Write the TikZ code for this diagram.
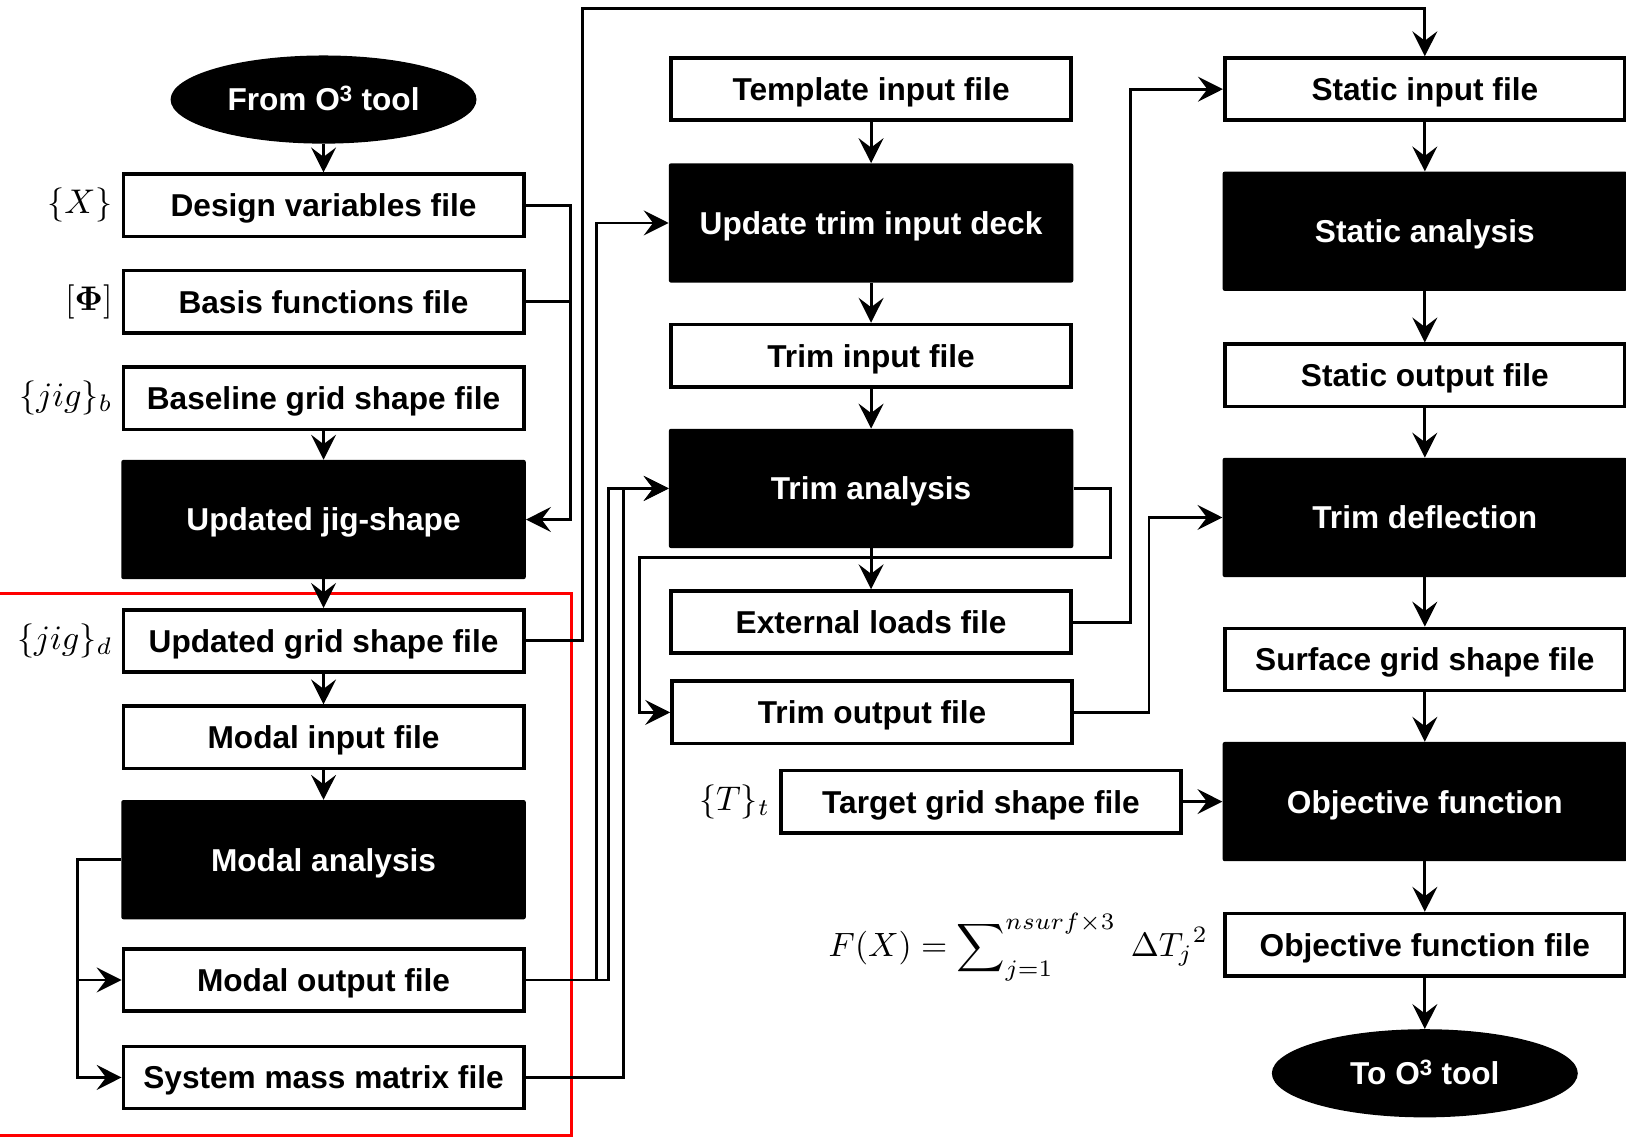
\documentclass[tikz,border=0pt]{standalone}
\usepackage{amsmath}
\usepackage[no-math]{fontspec}
\setmainfont{Liberation Sans}
\usetikzlibrary{positioning, arrows.meta, shapes.geometric}

\newcommand{\boxfont}{\bfseries\fontsize{30.5}{34}\selectfont}

\begin{document}
\begin{tikzpicture}[x=1pt, y=-1pt,
	filebox/.style={draw, line width=3.5pt, fill=white, minimum width=386pt, minimum height=60pt, inner sep=0pt, text height=22pt, text depth=0pt, font=\boxfont},
	procbox/.style={fill=black, text=white, rounded corners=2pt, minimum width=390pt, minimum height=115pt, inner sep=0pt, text height=22pt, text depth=0pt, font=\boxfont},
	termnode/.style={ellipse, fill=black, text=white, minimum width=295pt, minimum height=85pt, inner sep=0pt, text height=22pt, text depth=0pt, font=\boxfont},
	symlabel/.style={scale=3.3, inner sep=0pt},
	conn/.style={line width=2.8pt, -{Stealth[length=24pt, width=24pt, inset=9pt]}},
	wire/.style={line width=2.8pt}]
			\useasboundingbox (0,0) rectangle (1568,1097);
			% modal part
			\draw[red, line width=3pt] (-10,572) -| (551,1095) -- (-10,1095);

			% left column
			\node[termnode] (from) at (312,96) {From O\textsuperscript{3} tool};
			\node[filebox] (design) at (312,198) {Design variables file};
			\node[filebox] (basis) at (312,291) {Basis functions file};
			\node[filebox] (baseline) at (312,384) {Baseline grid shape file};
			\node[procbox] (jig) at (312,501) {Updated jig-shape};
			\node[filebox] (grid) at (312,618) {Updated grid shape file};
			\node[filebox] (modalin) at (312,711) {Modal input file};
			\node[procbox] (modal) at (312,829) {Modal analysis};
			\node[filebox] (modalout) at (312,945) {Modal output file};
			\node[filebox] (mass) at (312,1039) {System mass matrix file};

			\node[symlabel, anchor=east] (lX) at ([xshift=-8pt]design.west) {$\{X\}$};
			\node[symlabel, anchor=east] (lPhi) at ([xshift=-8pt]basis.west) {$[\mathbf{\Phi}]$};
			\node[symlabel, anchor=east] (ljigb) at ([xshift=-8pt]baseline.west) {$\{jig\}_b$};
			\node[symlabel, anchor=east] (ljigd) at ([xshift=-8pt]grid.west) {$\{jig\}_d$};

			% middle column
			\node[filebox] (template) at (840,86) {Template input file};
			\node[procbox] (updeck) at (840,215) {Update trim input deck};
			\node[filebox] (trimin) at (840,343) {Trim input file};
			\node[procbox] (trim) at (840,471) {Trim analysis};
			\node[filebox] (loads) at (840,600) {External loads file};
			\node[filebox] (trimout) at (841,687) {Trim output file};
			\node[filebox] (target) at (946,773) {Target grid shape file};
			\node[symlabel, anchor=east] (lT) at ([xshift=-8pt]target.west) {$\{T\}_t$};
			\node[scale=3.25, inner sep=0pt] (formula) at (982,913) {$\displaystyle F(X) = \sum\nolimits_{j=1}^{nsurf\times 3}\; \Delta T_j{}^2$};

			% right column
			\node[filebox] (statin) at (1374,86) {Static input file};
			\node[procbox] (static) at (1374,223) {Static analysis};
			\node[filebox] (statout) at (1374,362) {Static output file};
			\node[procbox] (defl) at (1374,499) {Trim deflection};
			\node[filebox] (surf) at (1374,636) {Surface grid shape file};
			\node[procbox] (obj) at (1374,773) {Objective function};
			\node[filebox] (objfile) at (1374,911) {Objective function file};
			\node[termnode] (to) at (1374,1035) {To O\textsuperscript{3} tool};

			% bus lines
			\coordinate (busA) at (550,0);
			\coordinate (busB) at (562,8);
			\coordinate (busC) at (575,0);
			\coordinate (busD) at (587,0);
			\coordinate (busE) at (601,0);
			\coordinate (busL) at (75,0);
			\coordinate (busH) at (1090,0);
			\coordinate (busI) at (1108,0);
			\coordinate (loopR) at (1071,538);
			\coordinate (loopL) at (617,538);

			\foreach \a/\b in {from/design, baseline/jig, jig/grid, grid/modalin, modalin/modal,
				template/updeck, updeck/trimin, trimin/trim, trim/loads,
				statin/static, static/statout, statout/defl, defl/surf, surf/obj, obj/objfile, objfile/to}
			\draw[conn] (\a) -- (\b);

			\draw[conn] (design.east) -- (design.east -| busA) |- (jig.east);
			\draw[wire] (basis.east) -- (basis.east -| busA);
			\draw[conn] (grid.east) -- (grid.east -| busB) -- (busB) -| (statin.north);
			\draw[conn] (modal.west) -- (modal.west -| busL) |- (mass.west);
			\draw[conn] (modalout.west -| busL) -- (modalout.west);
			\draw[conn] (modalout.east) -- (modalout.east -| busD) |- (trim.west);
			\draw[conn] (modalout.east -| busC) |- (updeck.west);
			\draw[conn] (mass.east) -- (mass.east -| busE) |- (trim.west);
			\draw[conn] (trim.east) -| (loopR) -- (loopL) |- (trimout.west);
			\draw[conn] (loads.east) -- (loads.east -| busH) |- (statin.west);
			\draw[conn] (trimout.east) -- (trimout.east -| busI) |- (defl.west);
			\draw[conn] (target) -- (obj);
		\end{tikzpicture}
\end{document}
